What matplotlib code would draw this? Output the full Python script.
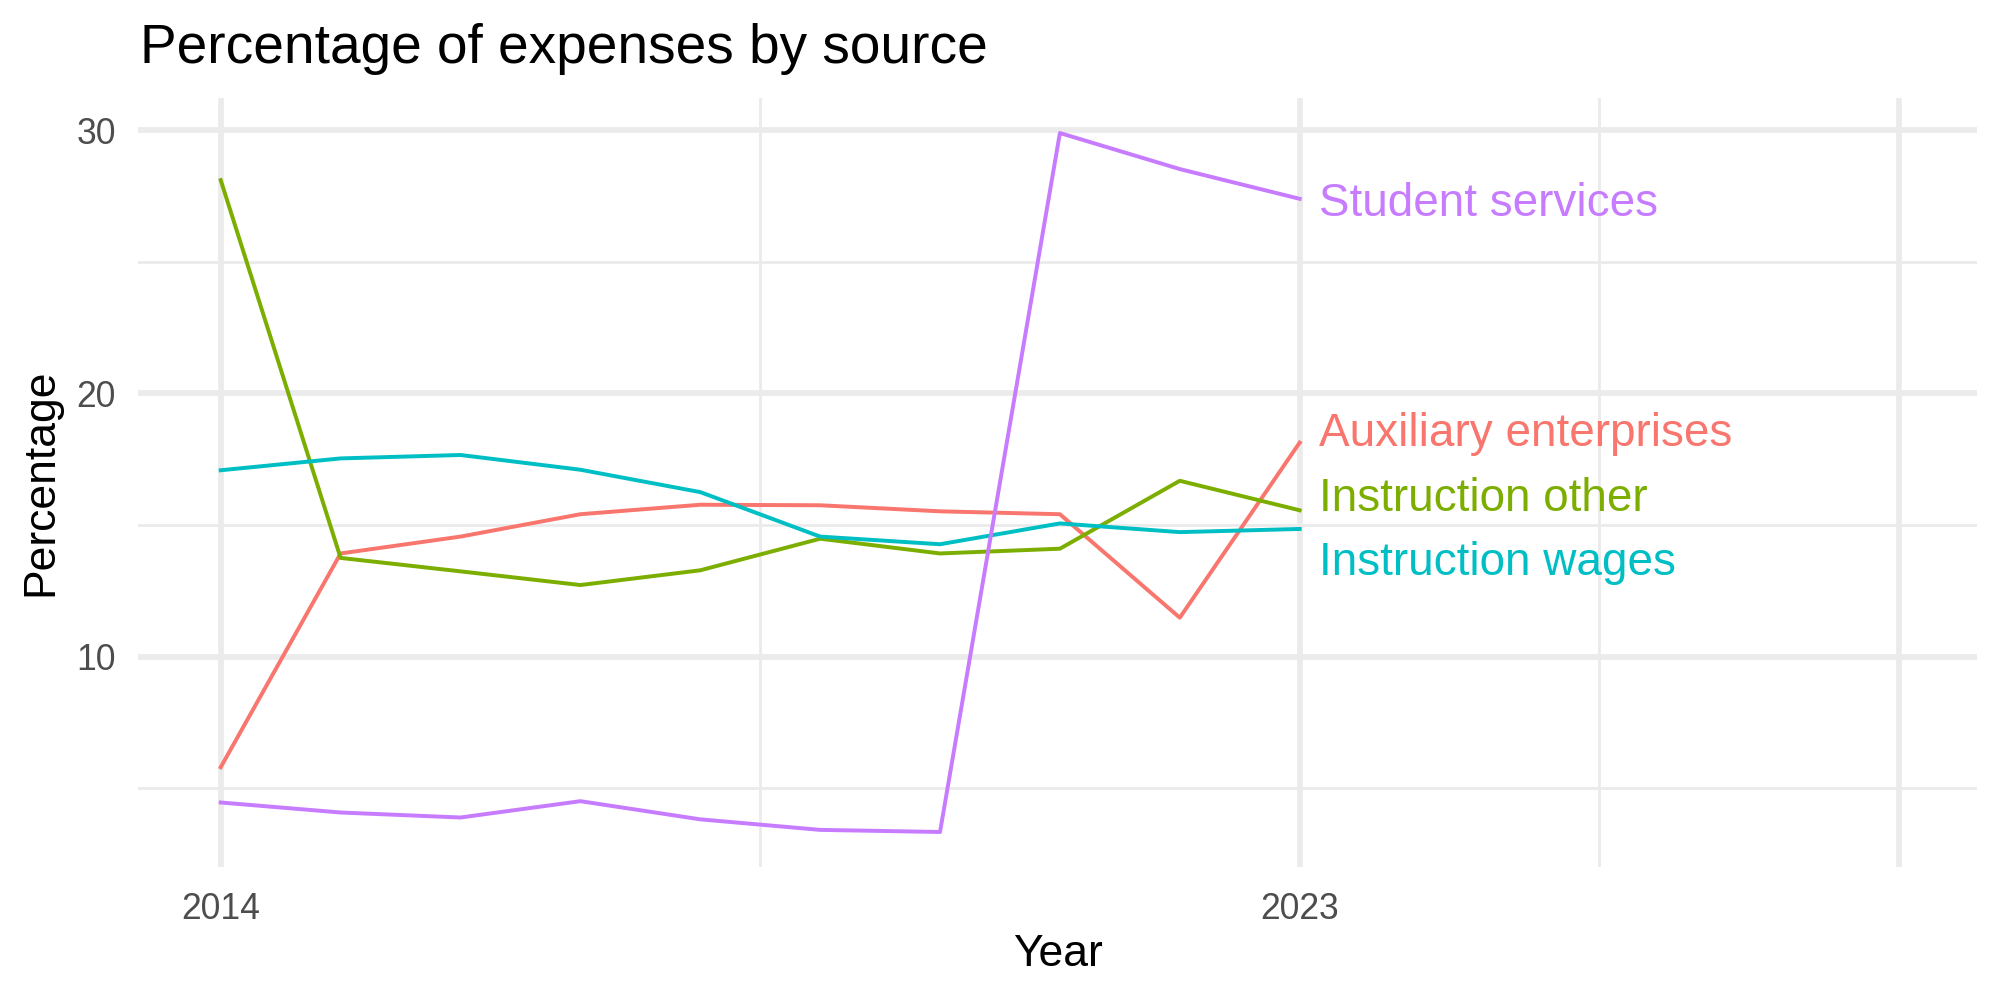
import numpy as np
import matplotlib
matplotlib.use("Agg")
import matplotlib.pyplot as plt

plt.rcParams["font.family"] = ["Liberation Sans", "DejaVu Sans"]

years = [2014, 2015, 2016, 2017, 2018, 2019, 2020, 2021, 2022, 2023]
sources = ["Auxiliary enterprises", "Instruction other", "Instruction wages", "Student services"]
auxiliary = [5.8, 13.92, 14.56, 15.41, 15.77, 15.75, 15.52, 15.41, 11.48, 18.13]
instr_other = [28.1, 13.75, 13.24, 12.72, 13.28, 14.48, 13.92, 14.10, 16.68, 15.56]
instr_wages = [17.08, 17.53, 17.66, 17.10, 16.25, 14.56, 14.27, 15.06, 14.73, 14.85]
student = [4.46, 4.08, 3.89, 4.51, 3.82, 3.42, 3.34, 29.89, 28.52, 27.39]
colors = ["#F8766D", "#7CAE00", "#00BFC4", "#C77CFF"]

series = [auxiliary, instr_other, instr_wages, student]


def repel(vals, gap):
    # spread end labels so they don't overlap; clusters stay centred on their mean
    order = list(np.argsort(vals)[::-1])
    groups = [[i] for i in order]
    out = np.array(vals, dtype=float)
    while True:
        pos = []
        for g in groups:
            m = np.mean([vals[i] for i in g])
            n = len(g)
            pos.append([m + ((n - 1) / 2 - k) * gap for k in range(n)])
        merged = False
        for j in range(len(groups) - 1):
            if pos[j][-1] - pos[j + 1][0] < gap:
                groups[j] = groups[j] + groups[j + 1]
                del groups[j + 1]
                merged = True
                break
        if not merged:
            break
    for g, p in zip(groups, pos):
        for i, y in zip(g, p):
            out[i] = y
    return out


fig = plt.figure(figsize=(10, 5), dpi=200)
ax = fig.add_axes([0.069, 0.133, 0.9195, 0.769])

for vals, c in zip(series, colors):
    ax.plot(years, vals, color=c, lw=1.42, solid_joinstyle="round", zorder=3)

label_y = repel([s[-1] for s in series], 2.45)
for name, c, y in zip(sources, colors, label_y):
    ax.annotate(name, (years[-1] + 0.16, y), xytext=(0, -1.8), textcoords="offset points",
                color=c, fontsize=16.5, va="center", ha="left")

ax.set_xlim(2013.31, 2028.65)
ax.set_ylim(2.01, 31.22)
ax.set_xticks([2014, 2023, 2028])
ax.set_xticklabels(["2014", "2023", ""])
ax.set_xticks([2018.5, 2025.5], minor=True)
ax.set_yticks([10, 20, 30])
ax.set_yticks([5, 15, 25], minor=True)

ax.grid(which="major", color="#EBEBEB", lw=2.07)
ax.grid(which="minor", color="#EBEBEB", lw=1.03)
ax.set_axisbelow(True)
for sp in ax.spines.values():
    sp.set_visible(False)
ax.tick_params(which="both", length=0)
ax.tick_params(axis="x", labelsize=12.8, labelcolor="#4D4D4D", pad=9)
ax.tick_params(axis="y", labelsize=12.8, labelcolor="#4D4D4D", pad=8)

ax.set_xlabel("Year", fontsize=16, labelpad=2.5)
ax.set_ylabel("Percentage", fontsize=16, labelpad=5.5)

fig.text(0.07, 0.937, "Percentage of expenses by source", fontsize=19.8, ha="left", va="baseline")

fig.savefig("out.png", dpi=200)
